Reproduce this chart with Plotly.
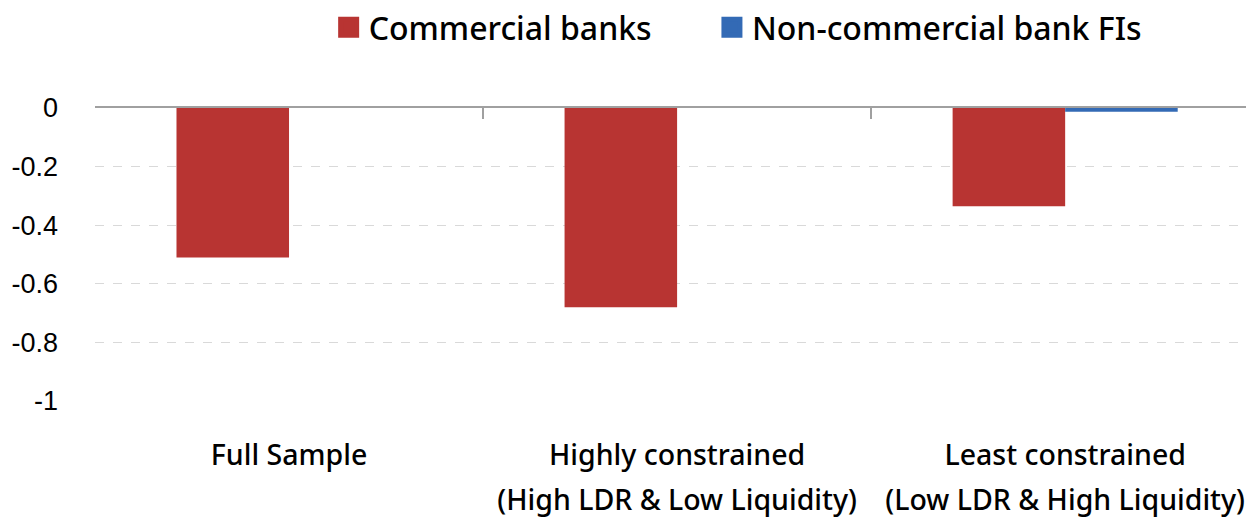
import plotly.graph_objects as go

categories = ["Full Sample", "Highly constrained", "Least constrained"]
category_line2 = ["", "(High LDR & Low Liquidity)", "(Low LDR & High Liquidity)"]
series_names = ["Commercial banks", "Non-commercial bank FIs"]
commercial_banks = [-0.51, -0.68, -0.335]
non_commercial = [0.0, 0.0, -0.013]
y_ticks = [0, -0.2, -0.4, -0.6, -0.8, -1]
y_tick_text = ["0", "-0.2", "-0.4", "-0.6", "-0.8", "-1"]
colors = ["#B83432", "#336AB5"]

FONT = "Noto Sans"
idx = list(range(len(categories)))
xr = [-0.5, 2.466]
legend_ids = ["legend", "legend2"]

fig = go.Figure()
for name, vals, col, lg in zip(series_names, [commercial_banks, non_commercial], colors, legend_ids):
    fig.add_trace(go.Bar(x=idx, y=vals, name=name, legendgroup=name, showlegend=False,
                         marker=dict(color=col, line=dict(width=0))))
    # legend entry with a larger square swatch
    fig.add_trace(go.Scatter(x=[None], y=[None], name=name, legendgroup=name, mode="markers",
                             legend=lg,
                             marker=dict(symbol="square", size=16, color=col,
                                         line=dict(color=col, width=5)),
                             hoverinfo="skip"))

legend_style = dict(orientation="h", xanchor="left", y=1.2755, yanchor="middle",
                    font=dict(size=32, family=FONT, color="#000", weight=500),
                    itemwidth=30, bgcolor="rgba(0,0,0,0)")

fig.update_layout(
    width=1246, height=518,
    margin=dict(l=95, r=0, t=107, b=117),
    paper_bgcolor="white", plot_bgcolor="white",
    barmode="group", bargap=0.42, bargroupgap=0,
    font=dict(family=FONT, color="#000000"),
    showlegend=True,
    legend=dict(x=0.203, **legend_style),
    legend2=dict(x=0.536, **legend_style),
    xaxis=dict(range=xr, tickvals=idx, ticktext=categories, showgrid=False,
               zeroline=False, showline=False, ticks="",
               tickfont=dict(size=28.5, family=FONT, weight=500), ticklabelstandoff=34),
    xaxis2=dict(overlaying="x", side="top", anchor="y", range=xr,
                tickvals=[-0.5, 0.5, 1.5, 2.5], ticks="inside", ticklen=11,
                tickwidth=2, tickcolor="#A0A0A0", showticklabels=False,
                showline=True, linecolor="#A0A0A0", linewidth=2,
                showgrid=False, zeroline=False),
    xaxis3=dict(overlaying="x", side="bottom", anchor="y", range=xr,
                tickvals=idx, ticktext=category_line2, ticks="",
                showgrid=False, zeroline=False, showline=False,
                tickfont=dict(size=28.5, family=FONT, weight=500), ticklabelstandoff=79),
    yaxis=dict(range=[-1, 0], tickvals=y_ticks, ticktext=y_tick_text,
               showgrid=True, gridcolor="#D9D9D9", griddash="dash", gridwidth=1,
               zeroline=False, showline=False, ticks="",
               tickfont=dict(size=27, family="Liberation Sans"), ticklabelstandoff=36),
)
fig.add_trace(go.Scatter(x=[None], y=[None], xaxis="x2", showlegend=False, hoverinfo="skip"))
fig.add_trace(go.Scatter(x=[None], y=[None], xaxis="x3", showlegend=False, hoverinfo="skip"))

fig.write_html("out.html")
